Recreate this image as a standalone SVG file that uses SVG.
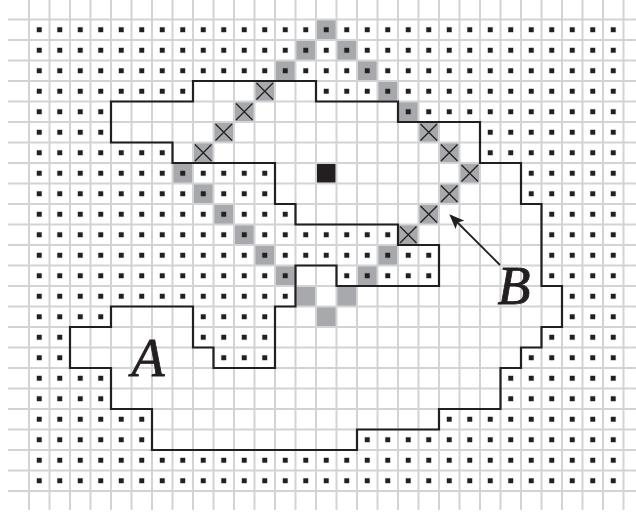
<svg xmlns="http://www.w3.org/2000/svg" width="636" height="514" viewBox="0 0 636 514">
<style>
.g{fill:#a7a9ac}
.grid{fill:none;stroke:#d1d3d4;stroke-width:2}
.x{stroke:#231f20;stroke-width:1.3;fill:none}
.bd{fill:none;stroke:#231f20;stroke-width:2.2;stroke-linejoin:miter}
.lbl{font-family:"Liberation Serif","Times New Roman",serif;font-style:italic;font-size:54px;fill:#231f20;stroke:#231f20;stroke-width:0.8}
</style>
<defs>
<pattern id="dotp" x="29" y="19.5" width="20.5" height="20.5" patternUnits="userSpaceOnUse">
<rect x="7.75" y="7.75" width="5" height="5" fill="#231f20"/>
</pattern>
<marker id="ah" viewBox="0 0 15 12" refX="12.6" refY="6" markerWidth="15" markerHeight="12" markerUnits="userSpaceOnUse" orient="auto">
<path d="M0,0 L15,6 L0,12 L3.5,6 z" fill="#231f20"/>
</marker>
</defs>
<rect width="636" height="514" fill="#fff"/>
<g id="outer-gray">
<rect class="g" x="316" y="19.5" width="20.5" height="20.5"/>
<rect class="g" x="295.5" y="40" width="20.5" height="20.5"/>
<rect class="g" x="336.5" y="40" width="20.5" height="20.5"/>
<rect class="g" x="275" y="60.5" width="20.5" height="20.5"/>
<rect class="g" x="357" y="60.5" width="20.5" height="20.5"/>
<rect class="g" x="377.5" y="81" width="20.5" height="20.5"/>
<rect class="g" x="398" y="101.5" width="20.5" height="20.5"/>
<rect class="g" x="172.5" y="163" width="20.5" height="20.5"/>
<rect class="g" x="193" y="183.5" width="20.5" height="20.5"/>
<rect class="g" x="213.5" y="204" width="20.5" height="20.5"/>
<rect class="g" x="234" y="224.5" width="20.5" height="20.5"/>
<rect class="g" x="254.5" y="245" width="20.5" height="20.5"/>
<rect class="g" x="275" y="265.5" width="20.5" height="20.5"/>
<rect class="g" x="377.5" y="245" width="20.5" height="20.5"/>
<rect class="g" x="357" y="265.5" width="20.5" height="20.5"/>
</g>
<g id="dots">
<rect x="29" y="19.5" width="594.5" height="471.5" fill="url(#dotp)"/>
</g>
<g id="region">
<path fill="#fff" d="M193,81 H316 V101.5 H398 V122 H480 V163 H521 V204 H541.5 V286 H562 V327 H541.5 V347.5 H521 V368 H500.5 V409 H439 V429.5 H357 V450 H152 V409 H111 V368 H70 V327 H111 V306.5 H193 V347.5 H213.5 V368 H275 V306.5 H295.5 V265.5 H336.5 V286 H439 V245 H398 V224.5 H295.5 V204 H275 V163 H172.5 V142.5 H111 V101.5 H193 Z"/>
</g>
<g id="inner-gray">
<rect class="g" x="295.5" y="286" width="20.5" height="20.5"/>
<rect class="g" x="336.5" y="286" width="20.5" height="20.5"/>
<rect class="g" x="316" y="306.5" width="20.5" height="20.5"/>
<rect class="g" x="254.5" y="81" width="20.5" height="20.5"/>
<rect class="g" x="234" y="101.5" width="20.5" height="20.5"/>
<rect class="g" x="213.5" y="122" width="20.5" height="20.5"/>
<rect class="g" x="193" y="142.5" width="20.5" height="20.5"/>
<rect class="g" x="418.5" y="122" width="20.5" height="20.5"/>
<rect class="g" x="439" y="142.5" width="20.5" height="20.5"/>
<rect class="g" x="459.5" y="163" width="20.5" height="20.5"/>
<rect class="g" x="439" y="183.5" width="20.5" height="20.5"/>
<rect class="g" x="418.5" y="204" width="20.5" height="20.5"/>
<rect class="g" x="398" y="224.5" width="20.5" height="20.5"/>
</g>
<g id="grid">
<path class="grid" d="M29,0V510 M49.5,0V510 M70,0V510 M90.5,0V510 M111,0V510 M131.5,0V510 M152,0V510 M172.5,0V510 M193,0V510 M213.5,0V510 M234,0V510 M254.5,0V510 M275,0V510 M295.5,0V510 M316,0V510 M336.5,0V510 M357,0V510 M377.5,0V510 M398,0V510 M418.5,0V510 M439,0V510 M459.5,0V510 M480,0V510 M500.5,0V510 M521,0V510 M541.5,0V510 M562,0V510 M582.5,0V510 M603,0V510 M623.5,0V510
M8,19.5H636 M8,40H636 M8,60.5H636 M8,81H636 M8,101.5H636 M8,122H636 M8,142.5H636 M8,163H636 M8,183.5H636 M8,204H636 M8,224.5H636 M8,245H636 M8,265.5H636 M8,286H636 M8,306.5H636 M8,327H636 M8,347.5H636 M8,368H636 M8,388.5H636 M8,409H636 M8,429.5H636 M8,450H636 M8,470.5H636 M8,491H636"/>
</g>
<g id="crosses">
<path class="x" d="M256.5,83 l16.5,16.5 M273,83 l-16.5,16.5
M236,103.5 l16.5,16.5 M252.5,103.5 l-16.5,16.5
M215.5,124 l16.5,16.5 M232,124 l-16.5,16.5
M195,144.5 l16.5,16.5 M211.5,144.5 l-16.5,16.5
M420.5,124 l16.5,16.5 M437,124 l-16.5,16.5
M441,144.5 l16.5,16.5 M457.5,144.5 l-16.5,16.5
M461.5,165 l16.5,16.5 M478,165 l-16.5,16.5
M441,185.5 l16.5,16.5 M457.5,185.5 l-16.5,16.5
M420.5,206 l16.5,16.5 M437,206 l-16.5,16.5
M400,226.5 l16.5,16.5 M416.5,226.5 l-16.5,16.5"/>
</g>
<g id="seed">
<rect x="317" y="164" width="18.5" height="18.5" fill="#231f20"/>
</g>
<g id="boundary">
<path class="bd" d="M193,81 H316 V101.5 H398 V122 H480 V163 H521 V204 H541.5 V286 H562 V327 H541.5 V347.5 H521 V368 H500.5 V409 H439 V429.5 H357 V450 H152 V409 H111 V368 H70 V327 H111 V306.5 H193 V347.5 H213.5 V368 H275 V306.5 H295.5 V265.5 H336.5 V286 H439 V245 H398 V224.5 H295.5 V204 H275 V163 H172.5 V142.5 H111 V101.5 H193 Z"/>
</g>
<g id="connectors">
<line x1="500" y1="265" x2="451" y2="216" stroke="#231f20" stroke-width="1.8" marker-end="url(#ah)"/>
</g>
<g id="label-A"><text class="lbl" x="148" y="375.5" text-anchor="middle">A</text></g>
<g id="label-B"><text class="lbl" x="514" y="303.5" text-anchor="middle">B</text></g>
</svg>
